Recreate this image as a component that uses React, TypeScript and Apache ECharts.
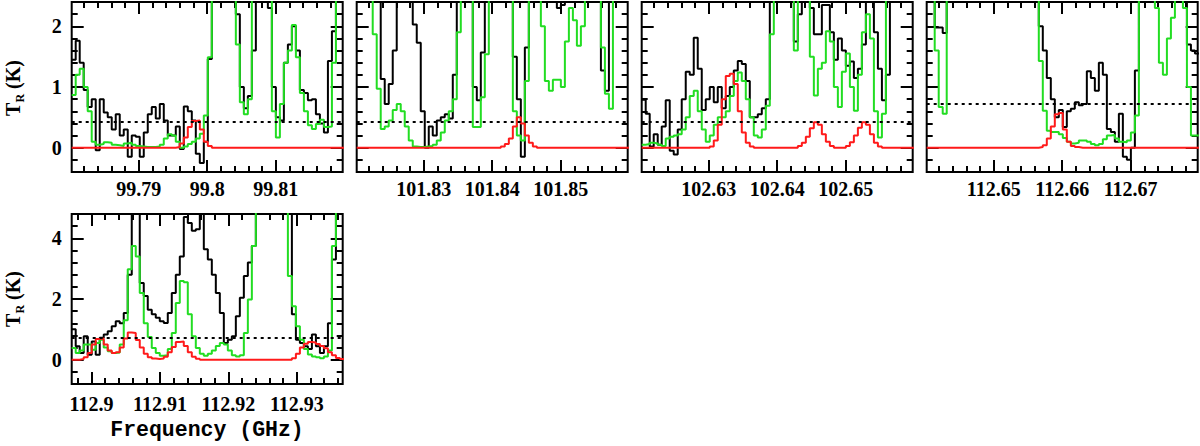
import React, { useEffect, useRef } from 'react';
import * as echarts from 'echarts';

// ---- spectral channel grid (GHz) ----
const chanWidth = 0.000585;

// frequency windows of the five panels (GHz)
const xRanges: number[][] = [
  [99.7802, 99.8198],
  [101.8202, 101.8598],
  [102.6202, 102.6598],
  [112.6402, 112.6798],
  [112.8971, 112.9367],
];

// tick labels
const p1Ticks = [99.79, 99.8, 99.81];
const p2Ticks = [101.83, 101.84, 101.85];
const p3Ticks = [102.63, 102.64, 102.65];
const p4Ticks = [112.65, 112.66, 112.67];
const p5Ticks = [112.9, 112.91, 112.92, 112.93];
const topYTicks = [0, 1, 2];
const bottomYTicks = [0, 2, 4];
const topYRange = [-0.4, 2.4];
const bottomYRange = [-0.8, 4.8];

// 3 sigma levels (dotted lines)
const noiseLevels = [0.42, 0.42, 0.42, 0.72, 0.72];

// ---- Panel 1: observed (black), full model (green), species model (red) ----
const p1Black = [1.45,1.76,1.4,0.95,0.67,0.8,-0.04,0.8,0.58,0.5, 0.3,0.55,0.2,0.3,-0.15,0.2,0.18,-0.15,0.25,0.55, 0.67,0.48,0.72,0.45,0.2,0.2,0.35,-0.02,0.68,0.6, 0.45,-0.1,-0.25,0.1,1.46,3,3,3,3,3, 3,2.2,1.0,0.65,0.85,1.6,3,3,3,2.3, 1.0,0.5,0.45,1.4,1.7,2.0,1.6,0.95,0.9,0.78, 0.8,0.55,0.4,0.25,1.43,1.92,3,3];
const p1Green = [0.87,1.2,1.3,1.0,0.6,0.1,0.05,0.06,0.09,0.08, 0.05,0.04,0.03,0.07,0.08,0.05,0.03,0.02,0.01,0.01, 0.01,0.02,0.05,0.15,0.22,0.2,0.1,0.0,0.02,0.06, 0.1,0.15,0.23,0.53,1.49,3,3,3,3,3, 3,1.7,0.75,0.55,0.8,3,3,3,3,3, 0.6,0.17,0.72,1.4,1.6,2.02,1.49,0.9,0.6,0.37, 0.31,0.39,0.46,0.34,0.35,1.4,3,3];
const p1Red = [0,0,0,0,0,0,0,0,0,0, 0,0,0,0,0,0,0,0,0,0, 0,0,0,0,0,0,0.01,0.07,0.17,0.34, 0.44,0.45,0.3,0.1,0.03,0,0,0,0,0, 0,0,0,0,0,0,0,0,0,0, 0,0,0,0,0,0,0,0,0,0, 0,0,0,0,0,0,0,0];

// ---- Panel 2 ----
const p2Black = [3,3,3,3,3,3,1.13,0.72,1.05,1.6, 3,3,3,3,2.03,1.73,0.6,0.0,0.35,0.2, 0.45,0.5,0.55,0.48,1.2,3,3,3,3,1.0, 0.78,1.57,3,3,3,3,3,3,3,1.5, 0.8,-0.15,1.65,3,3,3,3,3,3,3, 2.3,2.35,3,3,3,3,3,3,3,3, 3,1.27,0.94,3,3,3,3,3];
const p2Green = [3,3,3,3,1.87,0.97,0.31,0.35,0.45,0.62, 0.72,0.6,0.35,0.12,0.02,0.01,0.01,0.02,0.03,0.05, 0.12,0.25,0.45,0.6,0.8,1.9,3,3,3,0.34, 0.34,0.83,1.54,3,3,3,3,3,3,0.6, 0.2,0.12,1.1,3,3,3,2.0,1.1,0.94,1.12, 1.12,1.0,1.75,2.3,2.1,1.68,2.0,3,3,3, 3,1.65,0.89,0.64,3,3,3,3];
const p2Red = [0,0,0,0,0,0,0,0,0,0, 0,0,0,0,0,0,0,0,0,0, 0,0,0,0,0,0,0,0,0,0, 0,0,0,0,0,0,0.02,0.06,0.15,0.35, 0.5,0.4,0.2,0.08,0.02,0,0,0,0,0, 0,0,0,0,0,0,0,0,0,0, 0,0,0,0,0,0,0,0];

// ---- Panel 3 ----
const p3Black = [0.79,0.56,0.02,0.22,0.05,0.35,0.78,-0.05,-0.11,0.3, 0.8,1.25,1.2,1.81,1.3,0.62,0.8,1.0,0.75,1.0, 0.65,0.85,1.0,1.27,1.43,1.38,1.1,0.5,0.5,0.55, 0.65,0.8,3,3,3,3,3,3,1.75,2.2, 3,3,2.3,1.87,1.87,2.35,2.35,1.9,1.45,1.8, 1.6,1.35,1.42,1.15,1.3,1.7,3,3,1.9,1.3, 0.78,1.2,3,3,3,3,3,3];
const p3Green = [0.05,0.06,0.08,0.07,0.05,0.03,0.15,0.18,0.2,0.22, 0.3,0.5,0.85,0.94,0.6,0.3,0.1,0.2,0.38,0.5, 0.5,0.6,0.85,1.1,1.24,1.1,0.8,0.5,0.2,0.17, 0.3,0.69,1.87,3,3,3,3,3,1.6,3, 3,3,1.5,0.86,1.3,1.4,1.92,1.75,1.0,0.67, 1.25,1.55,1.0,0.61,1.2,1.9,2.2,1.8,0.6,0.17, 0.56,3,3,3,3,3,3,3];
const p3Red = [0,0,0,0,0,0,0,0,0,0, 0,0,0,0,0,0,0,0.02,0.12,0.38, 0.8,1.18,1.22,1.05,0.6,0.25,0.08,0.02,0,0, 0,0,0,0,0,0,0,0,0,0.03, 0.08,0.18,0.32,0.42,0.38,0.22,0.1,0.03,0,0, 0,0.03,0.09,0.2,0.33,0.42,0.38,0.22,0.08,0.02, 0,0,0,0,0,0,0,0];

// ---- Panel 4 ----
const p4Black = [3,3,1.98,1.98,1.89,3,3,3,3,3, 3,3,3,3,3,3,3,3,3,3, 3,3,3,3,3,3,3,3,2.0,1.6, 1.15,0.8,0.5,0.62,0.34,0.6,0.64,0.75,0.7,0.72, 1.26,1.15,0.94,1.4,1.2,0.31,0.26,0.1,0.56,-0.15, -0.2,0.0,1.27,3,3,3,3,3,3,3, 3,3,3,3,3,1.7,1.6,1.55];
const p4Green = [3,3,1.6,0.67,0.56,3,3,3,3,3, 3,3,3,3,3,3,3,3,3,3, 3,3,3,3,3,3,3,3,1.43,0.61, 0.28,0.26,0.26,0.22,0.16,0.1,0.07,0.08,0.12,0.12, 0.1,0.06,0.04,0.06,0.14,0.2,0.21,0.15,0.1,0.09, 0.12,0.25,0.53,3,3,3,3,2.3,1.4,1.2, 1.8,2.14,3,3,2.3,1.0,0.2,0.2];
const p4Red = [0,0,0,0,0,0,0,0,0,0, 0,0,0,0,0,0,0,0,0,0, 0,0,0,0,0,0,0,0,0.01,0.04, 0.15,0.35,0.55,0.57,0.3,0.1,0.03,0.01,0,0, 0,0,0,0,0,0,0,0,0,0, 0,0,0,0,0,0,0,0,0,0, 0,0,0,0,0,0,0,0];

// ---- Panel 5 ----
const p5Black = [1.0,0.44,0.22,0.77,0.16,0.6,0.16,0.72,0.83,0.94, 1.1,1.27,1.2,1.54,2.8,5.5,5.5,2.53,2.1,1.65, 1.5,1.38,1.27,1.21,1.54,2.2,2.8,3.4,4.7,4.5, 4.25,4.3,5.5,3.64,3.3,2.8,2.2,1.54,0.55,0.66, 0.77,1.43,2.04,2.76,3.2,3.75,5.5,5.5,5.5,5.5, 5.5,5.5,5.5,5.5,5.5,1.5,0.66,0.55,0.44,0.35, 0.83,0.44,0.22,0.44,1.2,3.3,5.5,5.5];
const p5Green = [0.39,0.22,0.3,0.5,0.5,0.33,0.55,0.66,0.4,0.28, 0.22,0.24,0.5,1.3,2.98,3.75,3.4,2.2,1.2,0.75, 0.39,0.22,0.13,0.15,0.35,0.88,1.87,2.59,2.55,1.5, 0.77,0.39,0.2,0.13,0.2,0.3,0.45,0.55,0.5,0.3, 0.15,0.11,0.15,0.88,1.98,3.75,5.5,5.5,5.5,5.5, 5.5,5.5,5.5,5.5,2.76,1.76,1.1,0.66,0.35,0.17, 0.11,0.08,0.05,0.11,0.3,3.75,5.5,5.5];
const p5Red = [0,0,0.02,0.08,0.22,0.5,0.68,0.7,0.5,0.3, 0.22,0.25,0.4,0.7,0.9,0.88,0.65,0.4,0.2,0.08, 0.04,0.02,0.04,0.1,0.25,0.42,0.58,0.6,0.45,0.25, 0.1,0.03,0,0,0,0,0,0,0,0, 0,0,0,0,0,0,0,0,0,0, 0,0,0,0,0,0.05,0.2,0.4,0.53,0.58, 0.57,0.52,0.45,0.38,0.25,0.15,0.06,0.02];

const panels = [
  { ticks: p1Ticks, black: p1Black, green: p1Green, red: p1Red },
  { ticks: p2Ticks, black: p2Black, green: p2Green, red: p2Red },
  { ticks: p3Ticks, black: p3Black, green: p3Green, red: p3Red },
  { ticks: p4Ticks, black: p4Black, green: p4Green, red: p4Red },
  { ticks: p5Ticks, black: p5Black, green: p5Green, red: p5Red },
];

// layout (px)
const gridBoxes = [
  { left: 71.7, top: 2, width: 271, height: 170 },
  { left: 356.7, top: 2, width: 271, height: 170 },
  { left: 641.7, top: 2, width: 271, height: 170 },
  { left: 926.7, top: 2, width: 271, height: 170 },
  { left: 71.7, top: 214, width: 271, height: 170 },
];

const TICK_FONT = 'Liberation Serif';
const BLACK = '#000000';
const GREEN = '#22dd22';
const RED = '#ff1a1a';

function fmt(v: number) {
  return String(parseFloat(Number(v).toFixed(4)));
}

function steps(start: number, values: number[]) {
  const pts = values.map((v, i) => [start + i * chanWidth, v]);
  pts.push([start + values.length * chanWidth, values[values.length - 1]]);
  return pts;
}

function multiples(min: number, max: number, step: number) {
  const out: number[] = [];
  const k0 = Math.ceil(min / step - 1e-6);
  const k1 = Math.floor(max / step + 1e-6);
  for (let k = k0; k <= k1; k++) out.push(parseFloat((k * step).toFixed(6)));
  return out;
}

function buildOption() {
  const grid: any[] = [];
  const xAxis: any[] = [];
  const yAxis: any[] = [];
  const series: any[] = [];
  const tickLine = { color: BLACK, width: 2 };
  const labelStyle = {
    color: BLACK,
    fontFamily: TICK_FONT,
    fontWeight: 'bold',
    fontSize: 20,
  };

  panels.forEach((p, g) => {
    grid.push({
      ...gridBoxes[g],
      show: true,
      borderColor: BLACK,
      borderWidth: 2,
      backgroundColor: 'rgba(0,0,0,0)',
      containLabel: false,
      outerBoundsMode: 'none',
    });
    const [xmin, xmax] = xRanges[g];
    const xMinor = multiples(xmin, xmax, 0.002);
    const isBottom = g === 4;
    const [ymin, ymax] = isBottom ? bottomYRange : topYRange;
    const yMajor = isBottom ? bottomYTicks : topYTicks;
    const yMinor = multiples(ymin, ymax, isBottom ? 0.4 : 0.2);
    const showY = g === 0 || g === 4;

    const xBase = {
      gridIndex: g,
      type: 'value',
      min: xmin,
      max: xmax,
      axisLine: { show: false, onZero: false },
      splitLine: { show: false },
    };
    xAxis.push(
      {
        ...xBase,
        position: 'bottom',
        axisTick: { show: true, inside: true, length: 12, customValues: p.ticks, lineStyle: tickLine },
        axisLabel: { show: true, customValues: p.ticks, formatter: fmt, margin: isBottom ? 10 : 7, ...labelStyle },
      },
      {
        ...xBase,
        position: 'bottom',
        axisTick: { show: true, inside: true, length: 6, customValues: xMinor, lineStyle: tickLine },
        axisLabel: { show: false },
      },
      {
        ...xBase,
        position: 'top',
        axisTick: { show: true, inside: true, length: 12, customValues: p.ticks, lineStyle: tickLine },
        axisLabel: { show: false },
      },
      {
        ...xBase,
        position: 'top',
        axisTick: { show: true, inside: true, length: 6, customValues: xMinor, lineStyle: tickLine },
        axisLabel: { show: false },
      }
    );

    const yBase = {
      gridIndex: g,
      type: 'value',
      min: ymin,
      max: ymax,
      axisLine: { show: false, onZero: false },
      splitLine: { show: false },
    };
    yAxis.push(
      {
        ...yBase,
        position: 'left',
        axisTick: { show: true, inside: true, length: 12, customValues: yMajor, lineStyle: tickLine },
        axisLabel: { show: showY, customValues: yMajor, formatter: fmt, margin: 10, ...labelStyle },
      },
      {
        ...yBase,
        position: 'left',
        axisTick: { show: true, inside: true, length: 6, customValues: yMinor, lineStyle: tickLine },
        axisLabel: { show: false },
      },
      {
        ...yBase,
        position: 'right',
        axisTick: { show: true, inside: true, length: 12, customValues: yMajor, lineStyle: tickLine },
        axisLabel: { show: false },
      },
      {
        ...yBase,
        position: 'right',
        axisTick: { show: true, inside: true, length: 6, customValues: yMinor, lineStyle: tickLine },
        axisLabel: { show: false },
      }
    );

    const common = {
      type: 'line',
      xAxisIndex: 4 * g,
      yAxisIndex: 4 * g,
      step: 'end',
      symbol: 'none',
      showSymbol: false,
      silent: true,
      clip: true,
    };
    series.push(
      {
        ...common,
        name: 'observed' + (g + 1),
        data: steps(xmin, p.black),
        lineStyle: { color: BLACK, width: 2 },
        z: 2,
        markLine: {
          silent: true,
          symbol: ['none', 'none'],
          label: { show: false },
          lineStyle: { color: BLACK, width: 2, type: [3, 4] },
          data: [{ yAxis: noiseLevels[g] }],
        },
      },
      {
        ...common,
        name: 'model' + (g + 1),
        data: steps(xmin, p.green),
        lineStyle: { color: GREEN, width: 2 },
        z: 3,
      },
      {
        ...common,
        name: 'species' + (g + 1),
        data: steps(xmin, p.red),
        lineStyle: { color: RED, width: 2 },
        z: 4,
      }
    );
  });

  const yTitle = (y: number) => ({
    type: 'text',
    x: 13,
    y,
    rotation: Math.PI / 2,
    style: {
      text: '{a|T}{b|R}{a| (K)}',
      align: 'center',
      verticalAlign: 'middle',
      rich: {
        a: { fontFamily: 'Liberation Serif', fontWeight: 'bold', fontSize: 20, lineHeight: 26, fill: BLACK },
        b: { fontFamily: 'Liberation Serif', fontWeight: 'bold', fontSize: 12, lineHeight: 16, verticalAlign: 'bottom', fill: BLACK },
      },
    },
  });

  return {
    animation: false,
    backgroundColor: '#ffffff',
    textStyle: { fontFamily: TICK_FONT },
    grid,
    xAxis,
    yAxis,
    series,
    graphic: [
      yTitle(88),
      yTitle(299),
      {
        type: 'text',
        x: 207,
        y: 430,
        style: {
          text: 'Frequency (GHz)',
          align: 'center',
          verticalAlign: 'middle',
          fontFamily: 'Liberation Mono',
          fontWeight: 'bold',
          fontSize: 21.5,
          fill: BLACK,
        },
      },
    ],
  };
}

export default function App() {
  const ref = useRef<HTMLDivElement>(null);
  useEffect(() => {
    if (!ref.current) return;
    const chart = echarts.init(ref.current, null, { renderer: 'svg' });
    chart.setOption(buildOption() as any);
    return () => chart.dispose();
  }, []);
  return (
    <div
      ref={ref}
      style={{ position: 'absolute', left: 0, top: 0, width: 1200, height: 446, background: '#fff' }}
    />
  );
}
